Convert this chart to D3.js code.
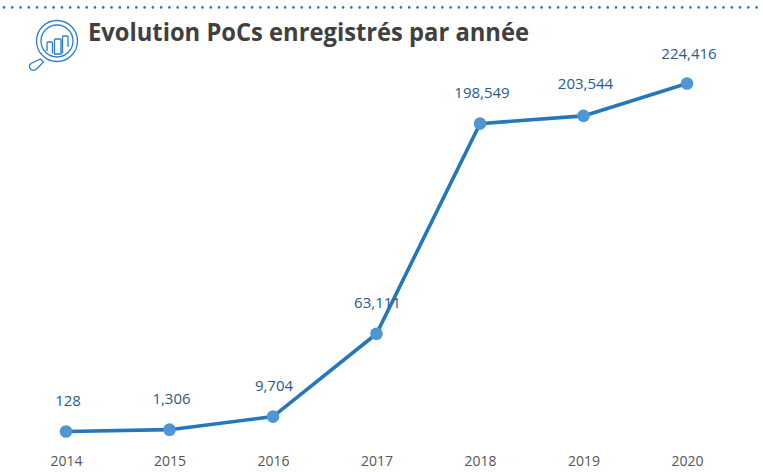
<!DOCTYPE html>
<html>
<head>
<meta charset="utf-8">
<script src="https://cdn.jsdelivr.net/npm/d3@7/dist/d3.min.js"></script>
<style>
html,body{margin:0;padding:0;background:#fff}
svg{display:block}
text{font-family:"Open Sans",sans-serif}
</style>
</head>
<body>
<svg id="c" width="763" height="472"></svg>
<script>
const years = ["2014","2015","2016","2017","2018","2019","2020"];
const pocs = [128,1306,9704,63111,198549,203544,224416];
const labelOffsets = [-26,-26,-26,-26,-26,-27,-25];
const labelShifts = [2,2,1,1,2,2,2];
const titleText = "Evolution PoCs enregistrés par année";

const svg = d3.select("#c");
const x = d3.scalePoint().domain(years).range([66,687]);
const y = d3.scaleLinear().domain([128,224416]).range([431.5,83.5]);

// dotted top rule
const dots = d3.range(4,763,8.27);
svg.append("g").selectAll("circle").data(dots).join("circle")
  .attr("cx",d=>d).attr("cy",7.4).attr("r",1.3).attr("fill","#2a7ab9");

// icon
const ic = svg.append("g").attr("fill","none").attr("stroke","#2a80c4");
ic.append("circle").attr("cx",57).attr("cy",41).attr("r",20.5).attr("stroke-width",1.3);
ic.append("circle").attr("cx",57).attr("cy",41).attr("r",16).attr("stroke-width",1.3);
ic.append("path").attr("stroke-width",1.3)
  .attr("d","M40.5,59 L43.5,62 L36,69.5 Q32.5,71.5 30,68.5 Q28.5,65.5 31,63.5 Z");
ic.append("path").attr("stroke-width",1.3)
  .attr("d","M47,51 V43 Q47,42 48,42 H51.5 Q52.5,42 52.5,43 V53.5 M54.5,54 V40 Q54.5,39 55.5,39 H60 Q61,39 61,40 V54 Z M62.5,53.5 V37 Q62.5,36 63.5,36 H67 Q68,36 68,37 V47");

// title
svg.append("text").attr("x",88).attr("y",41)
  .attr("font-size",25.5).attr("font-weight",700).attr("fill","#404040")
  .attr("textLength",441).attr("lengthAdjust","spacingAndGlyphs").text(titleText);

// line
const line = d3.line().x((d,i)=>x(years[i])).y(d=>y(d));
svg.append("path").datum(pocs).attr("d",line)
  .attr("fill","none").attr("stroke","#2477b8").attr("stroke-width",3.6);

// points
svg.append("g").selectAll("circle").data(pocs).join("circle")
  .attr("cx",(d,i)=>x(years[i])).attr("cy",d=>y(d)).attr("r",6.3).attr("fill","#4f96d3");

// value labels
svg.append("g").selectAll("text").data(pocs).join("text")
  .attr("x",(d,i)=>x(years[i])+labelShifts[i])
  .attr("y",(d,i)=>y(d)+labelOffsets[i])
  .attr("text-anchor","middle").attr("font-size",15).attr("fill","#2a5a86")
  .text(d=>d3.format(",")(d));

// x axis
const ax = svg.append("g").attr("transform","translate(0,466)")
  .call(d3.axisBottom(x).tickSize(0).tickPadding(0));
ax.select(".domain").remove();
ax.selectAll("text").attr("font-size",14).attr("fill","#555").attr("dy",0).attr("y",0)
  .style("font-family",'"Open Sans",sans-serif');
</script>
</body>
</html>
